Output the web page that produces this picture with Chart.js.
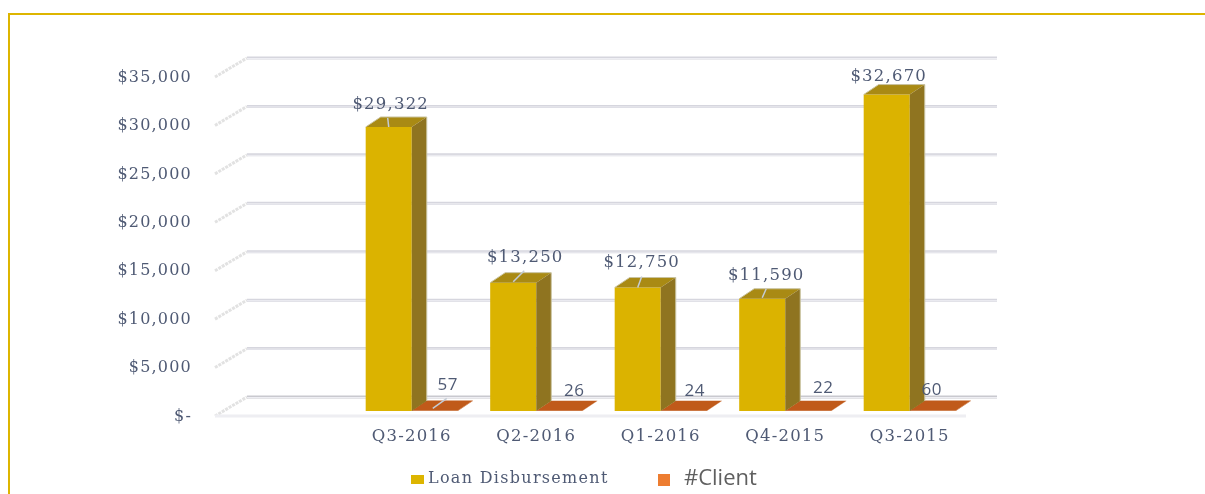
<!DOCTYPE html>
<html><head><meta charset="utf-8">
<style>
html,body{margin:0;padding:0;background:#fff;overflow:hidden}
#wrap{position:absolute;left:0;top:0;width:1205px;height:494px}
#frame{position:absolute;left:8px;top:13px;right:-4px;bottom:-4px;border:2px solid #DDB500}
canvas{position:absolute;left:0;top:0}
</style>
<script src="https://cdn.jsdelivr.net/npm/chart.js@4"></script>
</head><body>
<div id="wrap"><div id="frame"></div><canvas id="c" width="1205" height="494"></canvas></div>
<script>
const categories = ['', 'Q3-2016', 'Q2-2016', 'Q1-2016', 'Q4-2015', 'Q3-2015'];
const loanDisbursement = [null, 29322, 13250, 12750, 11590, 32670];
const clients = [null, 57, 26, 24, 22, 60];
const seriesNames = ['Loan Disbursement', '#Client'];
const tickStep = 5000, axisMax = 35000;

const INK = '#4F5A74';
const SERIF = '"DejaVu Serif", serif';
const SANS = '"Open Sans", sans-serif';
const depth = {dx: 15, dy: -10};          // bar depth
const wall = {dx: 32, fy: 5, by: -14};    // wall/floor depth
// label offsets from the bar's front-top centre: [dx, dy]
const loanLabelOff = [null, [2, -22], [12, -25], [4, -25], [4, -23], [2, -18]];
const clientLabelOff = [null, [13, -25], [15, -20], [11, -20], [15, -23], [-1, -20]];
// leader lines relative to the same point: [x1, y1, x2, y2]
const loanLead = [null, [0, 0, -1, -9], [0, -1, 11, -12], [0, 0, 4, -11], [0, -1, 4, -10], null];
const clientLead = [null, [-2, -2, 12, -12], null, null, null, null];

function spaced(ctx, px, fn){ ctx.save(); ctx.letterSpacing = px + 'px'; fn(); ctx.restore(); }

const scene = {
  id: 'scene',
  beforeDraw(chart){
    const ys = chart.scales.y, a = chart.chartArea, ctx = chart.ctx;
    ys._labelItems = null;
    ys.getLabelItems().forEach(i => { i.options.translation[1] += 5.5; });
    const L = a.left - 10, R = a.right + 25, F = a.right - 6;
    ys.ticks.forEach(t => {
      const y = ys.getPixelForValue(t.value);
      ctx.strokeStyle = '#e2e2e2'; ctx.lineWidth = 3; ctx.setLineDash([3, 1]);
      ctx.beginPath(); ctx.moveTo(L, y + wall.fy); ctx.lineTo(L + wall.dx, y + wall.by); ctx.stroke();
      ctx.setLineDash([]);
      ctx.strokeStyle = t.value === 0 ? '#c9c9cf' : '#d6d6de'; ctx.lineWidth = 3;
      ctx.beginPath(); ctx.moveTo(L + wall.dx, y + wall.by); ctx.lineTo(R, y + wall.by); ctx.stroke();
      ctx.strokeStyle = '#eeeef3'; ctx.lineWidth = 1;
      ctx.beginPath(); ctx.moveTo(L + wall.dx, y + wall.by + .5); ctx.lineTo(R, y + wall.by + .5); ctx.stroke();
    });
    const y0 = ys.getPixelForValue(0);
    ctx.strokeStyle = '#eeeef2'; ctx.lineWidth = 3;
    ctx.beginPath(); ctx.moveTo(L, y0 + wall.fy); ctx.lineTo(F, y0 + wall.fy); ctx.stroke();
    ctx.letterSpacing = '1.2px';
  },
  afterDatasetsDraw(chart){
    const ctx = chart.ctx, d = depth;
    const y0 = chart.scales.y.getPixelForValue(0);
    const shapes = [
      {side: '#8F7420', top: '#A98A14'},
      {side: '#C05A1A', top: '#C05A1A'}
    ];
    ctx.letterSpacing = '0px';
    [1, 0].forEach(idx => {
      const s = shapes[idx], meta = chart.getDatasetMeta(idx);
      meta.data.forEach((el, i) => {
        if (chart.data.datasets[idx].data[i] == null) return;
        const hw = el.width / 2, l = el.x - hw, r = el.x + hw, t = el.y;
        ctx.fillStyle = s.top;
        ctx.beginPath(); ctx.moveTo(l, t); ctx.lineTo(l + d.dx, t + d.dy); ctx.lineTo(r + d.dx, t + d.dy); ctx.lineTo(r, t); ctx.closePath(); ctx.fill();
        ctx.fillStyle = s.side;
        ctx.beginPath(); ctx.moveTo(r, t); ctx.lineTo(r + d.dx, t + d.dy); ctx.lineTo(r + d.dx, y0 + d.dy); ctx.lineTo(r, y0); ctx.closePath(); ctx.fill();
        if (idx === 0) {
          ctx.strokeStyle = '#c9c3a0'; ctx.lineWidth = 1;
          ctx.beginPath(); ctx.moveTo(l, t); ctx.lineTo(l + d.dx, t + d.dy); ctx.lineTo(r + d.dx, t + d.dy); ctx.lineTo(r + d.dx, y0 + d.dy); ctx.stroke();
        }
      });
    });
    const labels = (idx, off, leads, font, sp, fmt) => {
      chart.getDatasetMeta(idx).data.forEach((el, i) => {
        const o = off[i]; if (!o) return;
        const v = chart.data.datasets[idx].data[i];
        const lead = leads[i];
        if (lead) {
          ctx.strokeStyle = '#c4ccd6'; ctx.lineWidth = 1.5;
          ctx.beginPath(); ctx.moveTo(el.x + lead[0], el.y + lead[1]); ctx.lineTo(el.x + lead[2], el.y + lead[3]); ctx.stroke();
        }
        ctx.font = font; ctx.fillStyle = INK; ctx.textAlign = 'center'; ctx.textBaseline = 'middle';
        spaced(ctx, sp, () => ctx.fillText(fmt(v), el.x + o[0], el.y + o[1]));
      });
    };
    labels(0, loanLabelOff, loanLead, '16.5px ' + SERIF, 1.2, v => '$' + v.toLocaleString('en-US'));
    labels(1, clientLabelOff, clientLead, '17px ' + SANS, 0.5, v => String(v));
    const lg = [[411, 428, '16px ' + SERIF, 1.3, '#DDB500', 475, 9, 13, INK],
                [658, 684, '22px ' + SANS, 0, '#ED7D31', 474, 12, 12, '#5F5F5F']];
    lg.forEach((g, i) => {
      ctx.fillStyle = g[4]; ctx.fillRect(g[0], g[5], g[7], g[6]);
      ctx.font = g[2]; ctx.fillStyle = g[8]; ctx.textAlign = 'left'; ctx.textBaseline = 'middle';
      spaced(ctx, g[3], () => ctx.fillText(seriesNames[i], g[1], 479));
    });
  }
};

new Chart(document.getElementById('c'), {
  type: 'bar',
  data: {
    labels: categories,
    datasets: [
      {label: seriesNames[0], data: loanDisbursement, backgroundColor: '#DBB300'},
      {label: seriesNames[1], data: clients, backgroundColor: '#C05A1A'}
    ]
  },
  options: {
    responsive: false, animation: false,
    layout: {padding: {left: 103, right: 233, top: 72, bottom: 0}},
    plugins: {legend: {display: false}, tooltip: {enabled: false}},
    scales: {
      x: {
        grid: {display: false}, border: {display: false},
        afterFit(s){ s.height = 83; },
        ticks: {color: INK, font: {family: SERIF, size: 16.5}, padding: 8, maxRotation: 0, autoSkip: false}
      },
      y: {
        min: 0, max: axisMax,
        grid: {display: false}, border: {display: false},
        afterFit(s){ s.width = 122; },
        ticks: {
          stepSize: tickStep, color: INK, padding: 25, font: {family: SERIF, size: 16},
          callback: v => v === 0 ? '$-' : '$' + Number(v).toLocaleString('en-US')
        }
      }
    },
    datasets: {bar: {categoryPercentage: .74, barPercentage: 1}}
  },
  plugins: [scene]
});
</script>
</body></html>
